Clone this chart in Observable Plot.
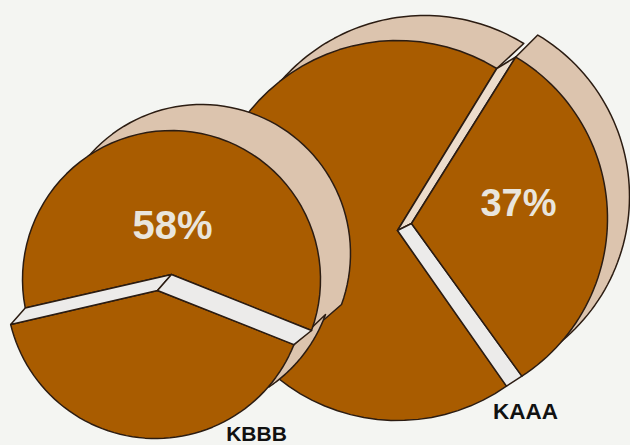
<!DOCTYPE html>
<html>
<head>
<meta charset="utf-8">
<script src="https://cdn.jsdelivr.net/npm/d3@7"></script>
<script src="https://cdn.jsdelivr.net/npm/@observablehq/plot@0.6"></script>
<style>
html,body{margin:0;padding:0;background:#f4f5f2;}
svg{display:block;background:#f4f5f2;}
</style>
</head>
<body>
<script>
// Values
const stationNames = ["KAAA", "KBBB"];
const shareLabels = ["37%", "58%"];
// Cut angles in degrees clockwise from north, per station
const kaaaCuts = [31.5, 146];   // the detached slice runs from first to second
const kbbbCuts = [259, 110];    // the 58% slice runs from first to second (through north)
const kbbbLowerCuts = [256.4, 111.7]; // the same two cuts as they meet the lower slice's rim

// Drawing model of the two pies (picture units)
const BROWN = "#a95c00", TAN = "#dcc4ae", WALL = "#ecebea", WALL2 = "#ecdccb", INK = "#2b1c12";
const rad = d => d * Math.PI / 180;
const at = (c, r, a) => ({x: c[0] + r * Math.sin(rad(a)), y: c[1] - r * Math.cos(rad(a))});
const arc = (c, r, a0, a1) => d3.range(0, 61).map(i => at(c, r, a0 + (a1 - a0) * i / 60));
const pt = p => ({x: p[0], y: p[1]});
const shape = (pts, fill) => Plot.line([...pts, pts[0]], {
  x: "x", y: "y", fill, stroke: INK, strokeWidth: 1.5, strokeLinejoin: "round", curve: "linear"
});

// KAAA
const aC = [397, 230], aR = 190, aBackC = [424, 205];
const bC = [419, 218], bR = 188, bBackC = [441, 196];
const aApex = [397, 230], bApex = [411, 223];
const aTop = at(aC, aR, kaaaCuts[0]), aBot = at(aC, aR, kaaaCuts[1] - 1);
const bTop = at(bC, bR, kaaaCuts[0] - 0.7), bBot = at(bC, bR, kaaaCuts[1] + 1);

const kaaaMarks = [
  shape([...arc(aBackC, aR, -54, kaaaCuts[0]), aTop, pt(aC)], TAN),
  shape([bTop, ...arc(bBackC, bR, kaaaCuts[0] - 0.7, 142), pt(bC)], TAN),
  shape([pt(aApex), aBot, ...arc(aC, aR, kaaaCuts[1] - 1, kaaaCuts[0] + 360), pt(aApex)], BROWN),
  shape([pt(aApex), aTop, bTop, pt(bApex)], WALL2),
  shape([pt(aApex), aBot, bBot, pt(bApex)], WALL),
  shape([pt(bApex), ...arc(bC, bR, kaaaCuts[0] - 0.7, kaaaCuts[1] + 1)], BROWN)
];

// KBBB
const cC = [171, 279], cR = 149, cBackC = [201, 253];
const dC = [155, 289], dR = 149, dBackC = [185, 263];
const cApex = [171, 274], dApex = [157, 290];
const cL = at(cC, cR, kbbbCuts[0]), cRt = at(cC, cR, kbbbCuts[1]);
const dL = at(dC, dR, kbbbLowerCuts[0]), dRt = at(dC, dR, kbbbLowerCuts[1]);

const kbbbMarks = [
  shape([...arc(cBackC, cR, -50, kbbbCuts[1]), cRt, pt(cC)], TAN),
  shape([dRt, ...arc(dBackC, dR, kbbbCuts[1], 146), pt(dC)], TAN),
  shape([pt(cApex), cL, ...arc(cC, cR, kbbbCuts[0], kbbbCuts[1] + 360)], BROWN),
  shape([pt(dApex), dRt, ...arc(dC, dR, kbbbLowerCuts[1], kbbbLowerCuts[0])], BROWN),
  shape([pt(cApex), cL, dL, pt(dApex)], WALL),
  shape([pt(cApex), cRt, dRt, pt(dApex)], WALL)
];

const chart = Plot.plot({
  width: 630, height: 445,
  margin: 0,
  x: {domain: [0, 630], range: [0, 630], axis: null},
  y: {domain: [0, 445], range: [0, 445], axis: null},
  marks: [
    ...kaaaMarks,
    ...kbbbMarks,
    Plot.text([shareLabels[0]], {
      x: [518], y: [203], text: d => d,
      fill: "#e9e5dc", fontSize: 38, fontWeight: 700, fontFamily: "Liberation Sans"
    }),
    Plot.text([shareLabels[1]], {
      x: [172], y: [226], text: d => d,
      fill: "#e9e5dc", fontSize: 40, fontWeight: 700, fontFamily: "Liberation Sans"
    }),
    Plot.text([stationNames[0]], {
      x: [525], y: [411], text: d => d,
      fill: "#111", fontSize: 22.5, fontWeight: 700, fontFamily: "Liberation Sans"
    }),
    Plot.text([stationNames[1]], {
      x: [256], y: [434], text: d => d,
      fill: "#111", fontSize: 21, fontWeight: 700, fontFamily: "Liberation Sans"
    })
  ]
});
document.body.appendChild(chart);
</script>
</body>
</html>
